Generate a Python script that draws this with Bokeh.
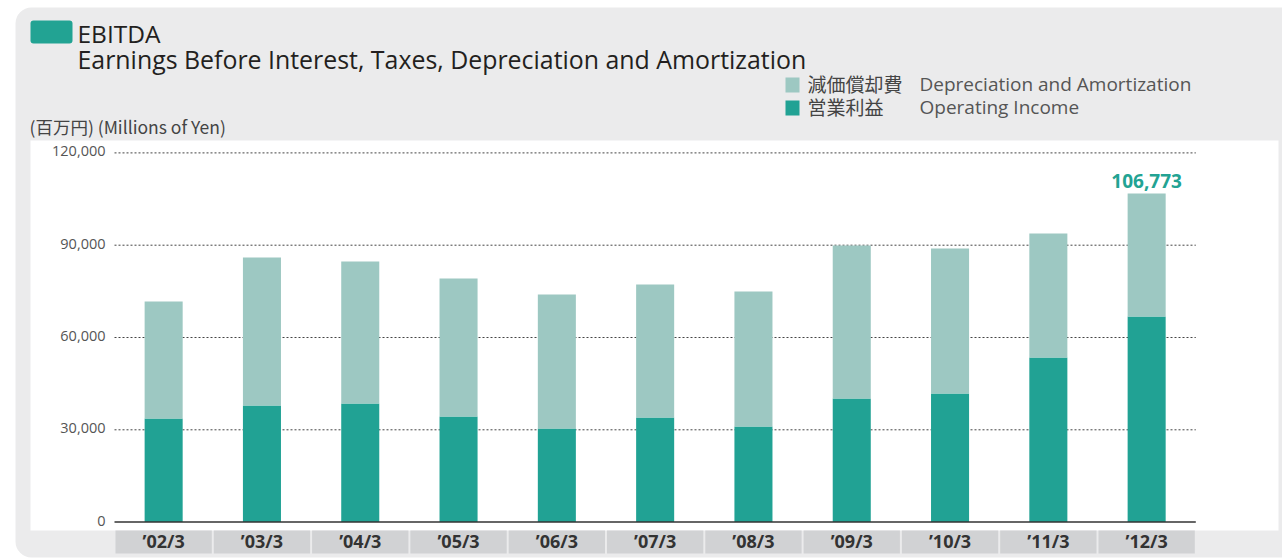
from bokeh.plotting import figure
from bokeh.models import Range1d, ColumnDataSource
from bokeh.core.properties import value
from bokeh.embed import file_html
from bokeh.resources import INLINE

# ---- data ----
categories = ["\u201902/3", "\u201903/3", "\u201904/3", "\u201905/3", "\u201906/3", "\u201907/3",
              "\u201908/3", "\u201909/3", "\u201910/3", "\u201911/3", "\u201912/3"]
operating_income = [33670, 37900, 38550, 34320, 30420, 34000, 31070, 40170, 41800, 53500, 66830]
depreciation = [38030, 48100, 46150, 44880, 43560, 43200, 43880, 49730, 47130, 40300, 39943]
y_ticks = [0, 30000, 60000, 90000, 120000]
y_tick_labels = ["0", "30,000", "60,000", "90,000", "120,000"]
highlight_label = "106,773"

DARK = "#21a294"
LIGHT = "#9dc8c2"
LATIN = "Open Sans"
CJK = "Noto Sans CJK JP"

# ---- layout helpers (picture pixels -> data) ----
W, H = 1282, 558
AX_LEFT = 114.0     # x of category 0 left edge
UNIT = 98.3         # pixels per category
ZERO_Y = 521.6      # y of value 0
PX_PER_VAL = 92.3 / 30000.0
BL = 8              # baseline correction for alphabetic text


def X(px):
    return (px - AX_LEFT) / UNIT


def Y(py):
    return (ZERO_Y - py) / PX_PER_VAL


n = len(categories)
xc = [i + 0.5 for i in range(n)]
totals = [a + b for a, b in zip(operating_income, depreciation)]

p = figure(width=W, height=H, x_range=Range1d(X(0), X(W)), y_range=Range1d(Y(H), Y(0)),
           output_backend="svg", toolbar_location=None, x_axis_type=None, y_axis_type=None,
           min_border=0, outline_line_color=None, border_fill_color="white",
           background_fill_color="white")
p.grid.visible = False

# panels
p.quad(left=[X(15)], right=[X(1330)], top=[Y(7)], bottom=[Y(557)], fill_color="#ebebec",
       line_color=None, border_radius=16)
p.quad(left=[X(30)], right=[X(1278)], top=[Y(140)], bottom=[Y(530)], fill_color="white",
       line_color=None)

# grid lines
grid_vals = [t for t in y_ticks if t != 0]
p.segment(x0=[0] * len(grid_vals), x1=[n] * len(grid_vals), y0=grid_vals, y1=grid_vals,
          line_color="#444444", line_width=1, line_dash="2 2")

# bars
src = ColumnDataSource(dict(x=xc, oi=operating_income, dep=depreciation, tot=totals))
p.vbar(x="x", width=0.387, bottom=0, top="oi", source=src, fill_color=DARK,
       line_color=None)
p.vbar(x="x", width=0.387, bottom="oi", top="tot", source=src, fill_color=LIGHT,
       line_color=None)

# axis line
p.segment(x0=[0], x1=[n], y0=[0], y1=[0], line_color="#333333", line_width=1.5)

# y tick labels
p.text(x=[X(105)] * len(y_ticks), y=[t + 1.5 / PX_PER_VAL for t in y_ticks], text=y_tick_labels,
       text_align="right", text_baseline="middle", text_font=value(LATIN),
       text_font_size="14.5px", text_color="#555555")

# category boxes + labels
p.quad(left=[c - 0.49 for c in xc], right=[c + 0.49 for c in xc],
       top=[Y(530)] * n, bottom=[Y(553)] * n, fill_color="#d1d2d4", line_color=None)
p.text(x=xc, y=[Y(540)] * n, text=categories, text_align="center", text_baseline="middle",
       text_font=value(LATIN), text_font_size="18px", text_font_style="bold",
       text_color="#333333")

# highlight value (above the bar)
p.text(x=[xc[-1]], y=[totals[-1] + (4 + BL + 1) / PX_PER_VAL], text=[highlight_label],
       text_align="center", text_baseline="alphabetic", text_font=value(LATIN),
       text_font_size="19px", text_font_style="bold", text_color="#22a393")

# title
p.quad(left=[X(30)], right=[X(72)], top=[Y(20)], bottom=[Y(43)], fill_color="#22a393",
       line_color=None, border_radius=3)
p.text(x=[X(77)], y=[Y(41 - BL)], text=["EBITDA"], text_baseline="alphabetic",
       text_font=value(LATIN), text_font_size="24.5px", text_color="#231f20")
p.text(x=[X(77)], y=[Y(66 - BL)], text=["Earnings Before Interest, Taxes, Depreciation and Amortization"],
       text_baseline="alphabetic", text_font=value(LATIN), text_font_size="24.9px",
       text_color="#231f20")

# legend
p.quad(left=[X(785), X(785)], right=[X(799), X(799)], top=[Y(77), Y(100)],
       bottom=[Y(92), Y(115)], fill_color=[LIGHT, DARK], line_color=None)
p.text(x=[X(807), X(807)], y=[Y(91 - BL), Y(114 - BL)], text=["減価償却費", "営業利益"],
       text_baseline="alphabetic", text_font=value(CJK), text_font_size="19px",
       text_color="#444444")
p.text(x=[X(919), X(919)], y=[Y(91 - BL), Y(114 - BL)],
       text=["Depreciation and Amortization", "Operating Income"],
       text_baseline="alphabetic", text_font=value(LATIN), text_font_size="19px",
       text_color="#555555")

# unit label
p.text(x=[X(29)], y=[Y(134 - BL)], text=["(百万円) (Millions of Yen)"], text_baseline="alphabetic",
       text_font=value(CJK), text_font_size="17.5px", text_color="#444444")

open("out.html", "w").write(file_html(p, INLINE))
